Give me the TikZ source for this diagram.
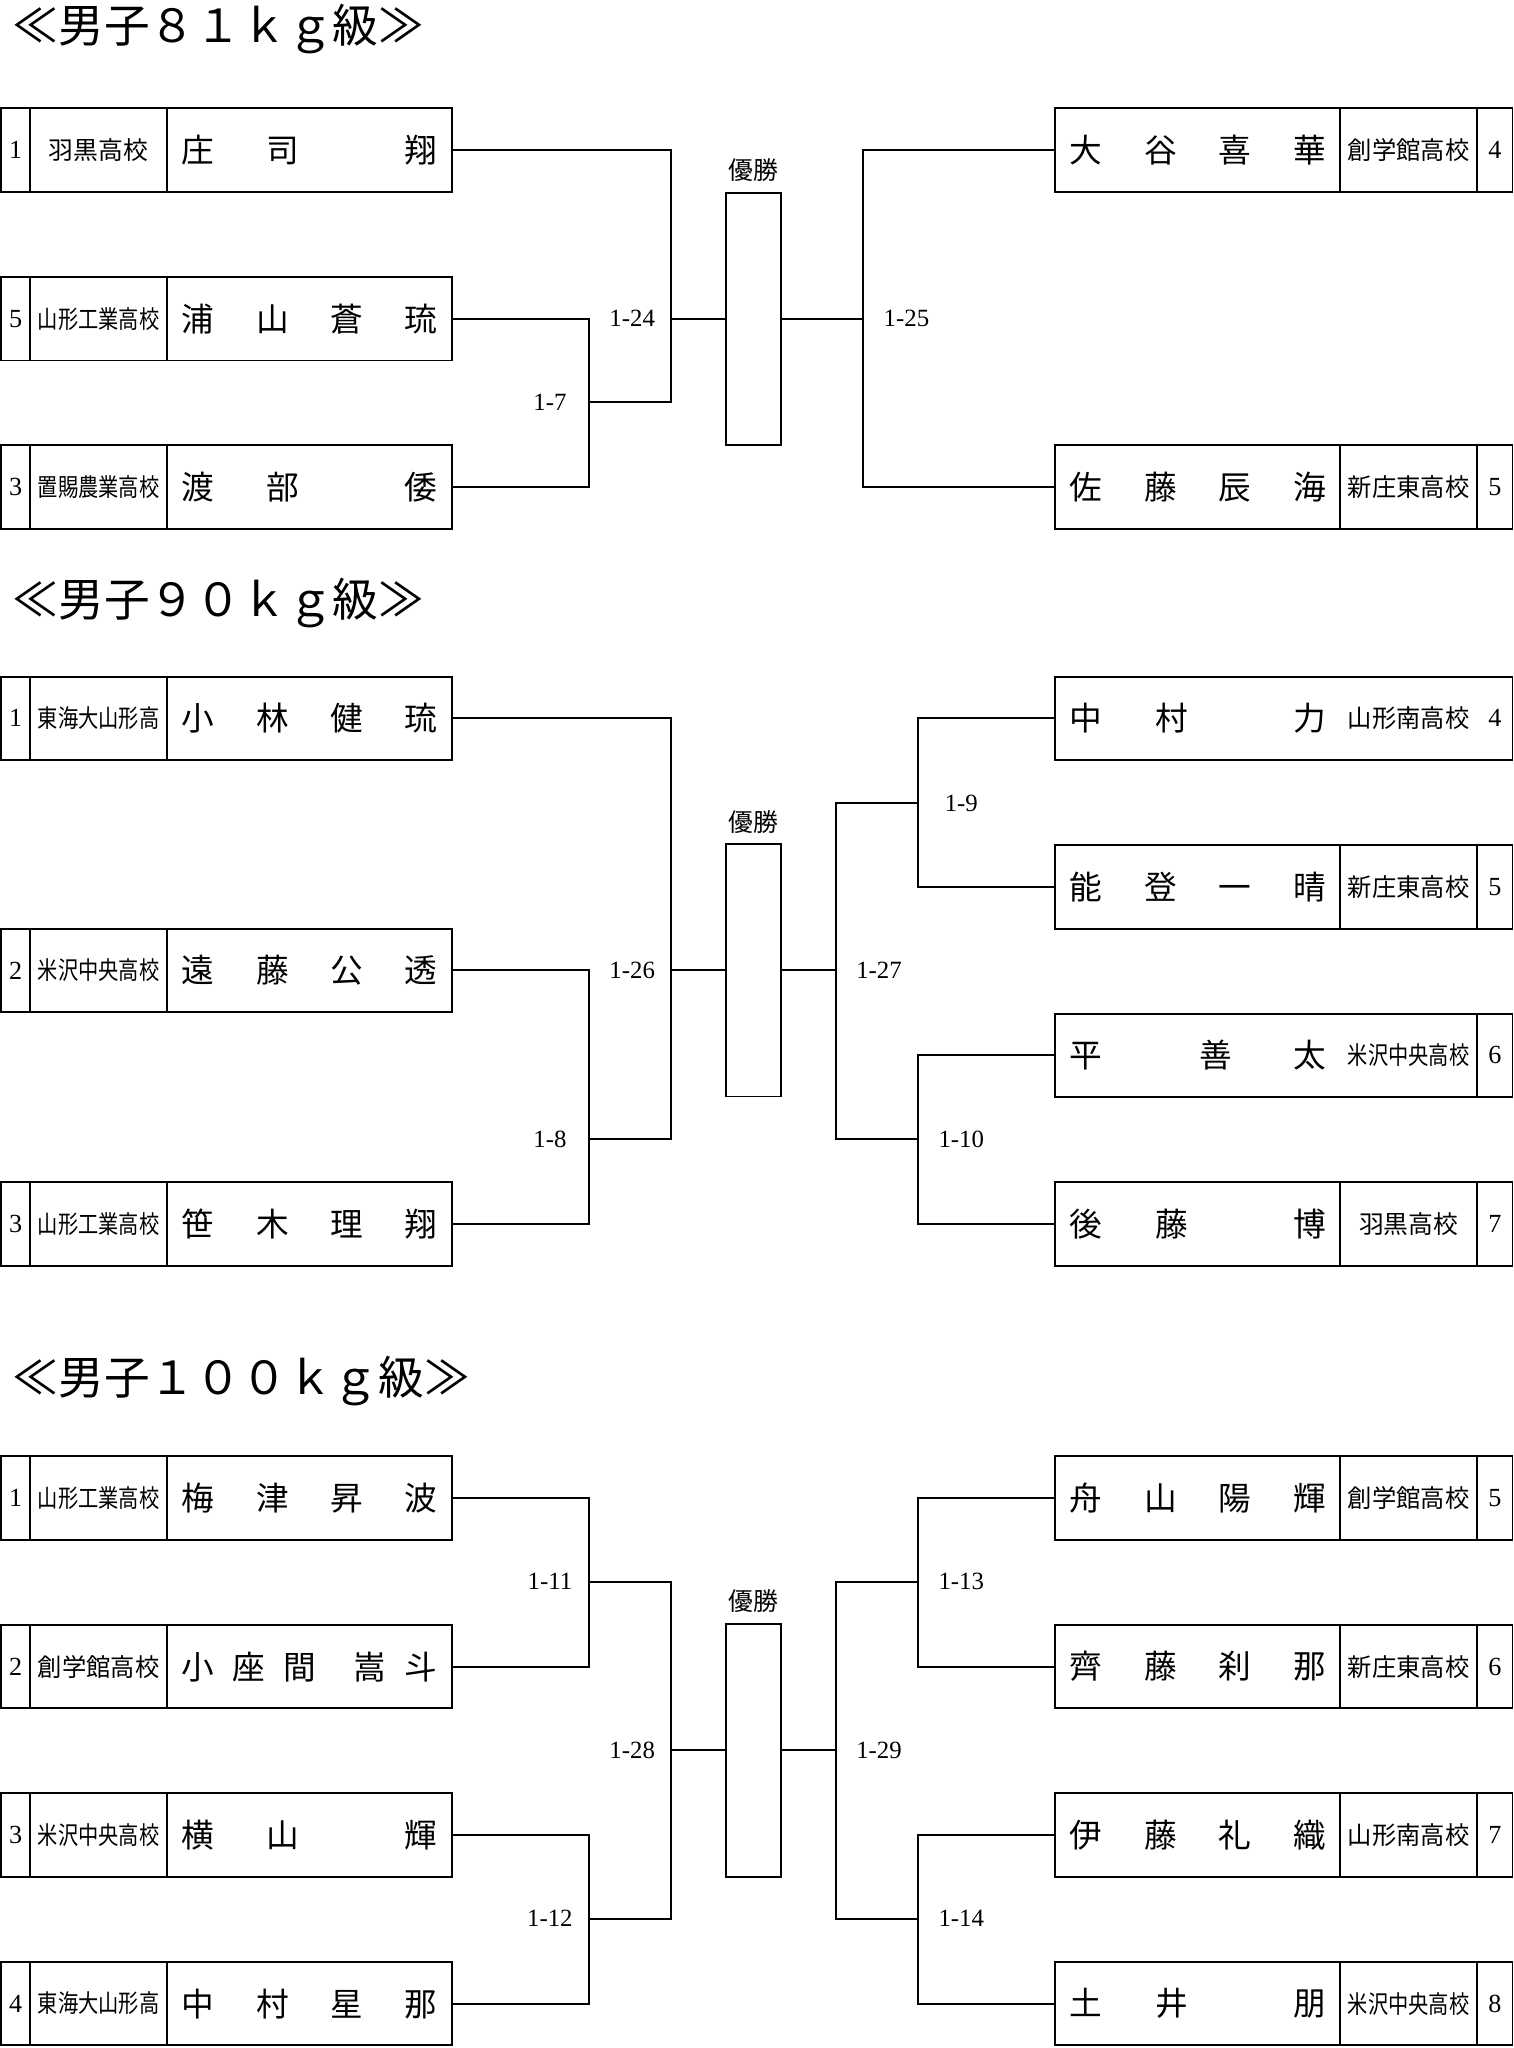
\documentclass[tikz,border=0pt]{standalone}
\usepackage{fontspec}
\setmainfont{Liberation Serif}
\newfontfamily\cjk{Noto Sans CJK JP}
\usepackage{graphicx}
\usetikzlibrary{positioning}

\newcommand\sgap[1]{\hskip 0pt plus #1fill\relax}
\newcommand\pname[1]{\makebox[196pt][s]{#1}}
\newcommand\club[1]{\sbox0{#1}\ifdim\wd0>93pt \resizebox{93pt}{\height}{#1}\else\usebox0\fi}

\begin{document}
\begin{tikzpicture}
[x=1pt,y=-1pt,line width=1.5pt,%
  cell/.style={draw,inner sep=0pt,outer sep=0pt,minimum height=64pt},%
  seed/.style={cell,minimum width=22pt,font=\fontsize{20}{20}\selectfont},%
  seedr/.style={seed,minimum width=27pt},%
  school/.style={cell,minimum width=105pt,font=\cjk\fontsize{19}{19}\selectfont},%
  player/.style={cell,minimum width=218pt,font=\cjk\fontsize{25}{25}\selectfont},%
  nolines/.style={draw=none},%
  champ/.style={draw,inner sep=0pt,outer sep=0pt,minimum width=42pt,minimum height=193pt},%
  champlabel/.style={font=\cjk\fontsize{19}{19}\selectfont,inner sep=0pt},%
  match/.style={font=\fontsize{19}{19}\selectfont,inner sep=0pt},%
  weight/.style={font=\cjk\fontsize{35}{35}\selectfont,inner sep=0pt,anchor=west}]
\useasboundingbox (0,0) rectangle (1159,1568);

% 81kg
\node[weight] (ta) at (9,22) {≪男子８１ｋｇ級≫};
\node[seed,anchor=west] (al1s) at (1,115) {1};
\node[school,right=0pt of al1s] (al1c) {\club{羽黒高校}};
\node[player,right=0pt of al1c] (al1n) {\pname{庄\sgap1司\sgap2翔}};
\node[seed,anchor=west] (al2s) at (1,244) {5};
\node[school,right=0pt of al2s] (al2c) {\club{山形工業高校}};
\node[player,right=0pt of al2c] (al2n) {\pname{浦\sgap1山\sgap1蒼\sgap1琉}};
\node[seed,anchor=west] (al3s) at (1,373) {3};
\node[school,right=0pt of al3s] (al3c) {\club{置賜農業高校}};
\node[player,right=0pt of al3c] (al3n) {\pname{渡\sgap1部\sgap2倭}};
\node[player,anchor=west] (ar1n) at (808,115) {\pname{大\sgap1谷\sgap1喜\sgap1華}};
\node[school,right=0pt of ar1n] (ar1c) {\club{創学館高校}};
\node[seedr,right=0pt of ar1c] (ar1s) {4};
\node[player,anchor=west] (ar2n) at (808,373) {\pname{佐\sgap1藤\sgap1辰\sgap1海}};
\node[school,right=0pt of ar2n] (ar2c) {\club{新庄東高校}};
\node[seedr,right=0pt of ar2c] (ar2s) {5};
\node[champ] (aw) at (577,244) {};
\node[champlabel,above=7.5pt of aw] (awl) {優勝};
\coordinate (a7) at (451,308);
\coordinate (a24) at (514,244);
\coordinate (a25) at (661,244);
\draw (al2n.east) -| (a7) |- (al3n.east);
\draw (al1n.east) -| (a24) |- (a7);
\draw (a24) -- (aw.west);
\draw (aw.east) -- (a25);
\draw (ar1n.west) -| (a25) |- (ar2n.west);
\node[match] (m7) at (421,308) {1-7};
\node[match] (m24) at (484,244) {1-24};
\node[match] (m25) at (694,244) {1-25};

% 90kg
\node[weight] (tb) at (9,462) {≪男子９０ｋｇ級≫};
\node[seed,anchor=west] (bl1s) at (1,550) {1};
\node[school,right=0pt of bl1s] (bl1c) {\club{東海大山形高}};
\node[player,right=0pt of bl1c] (bl1n) {\pname{小\sgap1林\sgap1健\sgap1琉}};
\node[seed,anchor=west] (bl2s) at (1,743) {2};
\node[school,right=0pt of bl2s] (bl2c) {\club{米沢中央高校}};
\node[player,right=0pt of bl2c] (bl2n) {\pname{遠\sgap1藤\sgap1公\sgap1透}};
\node[seed,anchor=west] (bl3s) at (1,937) {3};
\node[school,right=0pt of bl3s] (bl3c) {\club{山形工業高校}};
\node[player,right=0pt of bl3c] (bl3n) {\pname{笹\sgap1木\sgap1理\sgap1翔}};
\node[player,nolines,anchor=west] (br1n) at (808,550) {\pname{中\sgap1村\sgap2力}};
\node[school,nolines,right=0pt of br1n] (br1c) {\club{山形南高校}};
\node[seedr,nolines,right=0pt of br1c] (br1s) {4};
\draw (br1n.north west) rectangle (br1s.south east);
\node[player,anchor=west] (br2n) at (808,679) {\pname{能\sgap1登\sgap1一\sgap1晴}};
\node[school,right=0pt of br2n] (br2c) {\club{新庄東高校}};
\node[seedr,right=0pt of br2c] (br2s) {5};
\node[player,nolines,anchor=west] (br3n) at (808,808) {\pname{平\sgap{1.6}善\sgap1太}};
\node[school,nolines,right=0pt of br3n] (br3c) {\club{米沢中央高校}};
\node[seedr,right=0pt of br3c] (br3s) {6};
\draw (br3n.north west) rectangle (br3c.south east);
\node[player,anchor=west] (br4n) at (808,937) {\pname{後\sgap1藤\sgap2博}};
\node[school,right=0pt of br4n] (br4c) {\club{羽黒高校}};
\node[seedr,right=0pt of br4c] (br4s) {7};
\node[champ] (bw) at (577,743) {};
\node[champlabel,above=7.5pt of bw] (bwl) {優勝};
\coordinate (b8) at (451,872);
\coordinate (b26) at (514,743);
\coordinate (b27) at (640,743);
\coordinate (b9) at (703,615);
\coordinate (b10) at (703,872);
\draw (bl2n.east) -| (b8) |- (bl3n.east);
\draw (bl1n.east) -| (b26) |- (b8);
\draw (b26) -- (bw.west);
\draw (bw.east) -- (b27);
\draw (b9) -| (b27) |- (b10);
\draw (br1n.west) -| (b9) |- (br2n.west);
\draw (br3n.west) -| (b10) |- (br4n.west);
\node[match] (m8) at (421,872) {1-8};
\node[match] (m26) at (484,743) {1-26};
\node[match] (m27) at (673,743) {1-27};
\node[match] (m9) at (736,615) {1-9};
\node[match] (m10) at (736,872) {1-10};

% 100kg
\node[weight] (tc) at (9,1057) {≪男子１００ｋｇ級≫};
\node[seed,anchor=west] (cl1s) at (1,1147) {1};
\node[school,right=0pt of cl1s] (cl1c) {\club{山形工業高校}};
\node[player,right=0pt of cl1c] (cl1n) {\pname{梅\sgap1津\sgap1昇\sgap1波}};
\node[seed,anchor=west] (cl2s) at (1,1276) {2};
\node[school,right=0pt of cl2s] (cl2c) {\club{創学館高校}};
\node[player,right=0pt of cl2c] (cl2n) {\pname{小\sgap1座\sgap1間\sgap2嵩\sgap1斗}};
\node[seed,anchor=west] (cl3s) at (1,1405) {3};
\node[school,right=0pt of cl3s] (cl3c) {\club{米沢中央高校}};
\node[player,right=0pt of cl3c] (cl3n) {\pname{横\sgap1山\sgap2輝}};
\node[seed,anchor=west] (cl4s) at (1,1534) {4};
\node[school,right=0pt of cl4s] (cl4c) {\club{東海大山形高}};
\node[player,right=0pt of cl4c] (cl4n) {\pname{中\sgap1村\sgap1星\sgap1那}};
\node[player,anchor=west] (cr1n) at (808,1147) {\pname{舟\sgap1山\sgap1陽\sgap1輝}};
\node[school,right=0pt of cr1n] (cr1c) {\club{創学館高校}};
\node[seedr,right=0pt of cr1c] (cr1s) {5};
\node[player,anchor=west] (cr2n) at (808,1276) {\pname{齊\sgap1藤\sgap1刹\sgap1那}};
\node[school,right=0pt of cr2n] (cr2c) {\club{新庄東高校}};
\node[seedr,right=0pt of cr2c] (cr2s) {6};
\node[player,anchor=west] (cr3n) at (808,1405) {\pname{伊\sgap1藤\sgap1礼\sgap1織}};
\node[school,right=0pt of cr3n] (cr3c) {\club{山形南高校}};
\node[seedr,right=0pt of cr3c] (cr3s) {7};
\node[player,anchor=west] (cr4n) at (808,1534) {\pname{土\sgap1井\sgap2朋}};
\node[school,right=0pt of cr4n] (cr4c) {\club{米沢中央高校}};
\node[seedr,right=0pt of cr4c] (cr4s) {8};
\node[champ,minimum height=194pt] (cw) at (577,1340) {};
\node[champlabel,above=7.5pt of cw] (cwl) {優勝};
\coordinate (c11) at (451,1211);
\coordinate (c12) at (451,1469);
\coordinate (c28) at (514,1340);
\coordinate (c29) at (640,1340);
\coordinate (c13) at (703,1211);
\coordinate (c14) at (703,1469);
\draw (cl1n.east) -| (c11) |- (cl2n.east);
\draw (cl3n.east) -| (c12) |- (cl4n.east);
\draw (c11) -| (c28) |- (c12);
\draw (c28) -- (cw.west);
\draw (cw.east) -- (c29);
\draw (c13) -| (c29) |- (c14);
\draw (cr1n.west) -| (c13) |- (cr2n.west);
\draw (cr3n.west) -| (c14) |- (cr4n.west);
\node[match] (m11) at (421,1211) {1-11};
\node[match] (m12) at (421,1469) {1-12};
\node[match] (m28) at (484,1340) {1-28};
\node[match] (m29) at (673,1340) {1-29};
\node[match] (m13) at (736,1211) {1-13};
\node[match] (m14) at (736,1469) {1-14};
\end{tikzpicture}
\end{document}
